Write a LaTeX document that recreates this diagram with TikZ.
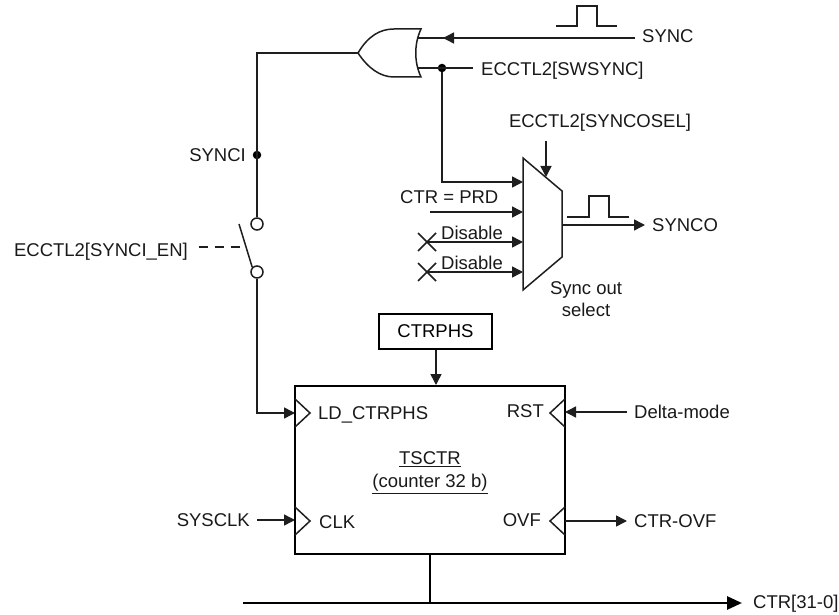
\documentclass[tikz,border=0pt]{standalone}
\usepackage{fontspec}
\setmainfont{Liberation Sans}
\usepackage{xcolor}
\usetikzlibrary{arrows.meta, positioning, shapes.geometric}
\definecolor{wirecol}{RGB}{30,30,30}

\begin{document}
\begin{tikzpicture}[
      x=1pt, y=-1pt,
      wire/.style={draw=wirecol, line width=1.5pt},
      arr/.style={wire, -{Triangle[length=11pt,width=11pt]}},
      bus/.style={draw=black, line width=2.7pt},
      lbl/.style={font=\fontsize{18.5}{22}\selectfont, inner xsep=7pt, inner ysep=0pt,
                  text height=13pt, text depth=0pt, text=black!90},
      regbox/.style={draw=black, line width=2.7pt, minimum width=113pt, minimum height=35pt,
                     font=\fontsize{18.5}{22}\selectfont, inner sep=0pt},
      pad/.style={draw=wirecol, circle, line width=1.5pt, minimum size=12pt, inner sep=0pt, fill=white},
      joint/.style={fill=black, circle, inner sep=0pt, minimum size=8.5pt}
    ]
    \useasboundingbox (0,0) rectangle (839,615);

    % or gate
    \coordinate (ortip) at (358,53);
    \coordinate (ortop) at (421,29);
    \coordinate (orbot) at (421,77);
    \coordinate (orinA) at (417,38);
    \coordinate (orinB) at (417,68);
    \draw[wire, line join=miter] (ortip) .. controls (368,36) and (380,29) .. (394,29) -- (ortop)
      .. controls (414,44) and (414,62) .. (orbot) -- (394,77)
      .. controls (380,77) and (368,68) .. (ortip);

    \node[lbl, anchor=west] (sync) at (635,36) {SYNC};
    \node[lbl, anchor=west] (swsync) at (474,69) {ECCTL2[SWSYNC]};
    \node[joint] (jsw) at (442,68) {};
    \coordinate (syncin) at (635,38);
    \coordinate (syncarr) at (443,38);
    \coordinate (swin) at (473,68);
    \draw[wire] (syncin) -- (orinA);
    \draw[arr] (syncin) -- (syncarr);
    \draw[wire] (swin) -- (orinB);

    % pulse on sync
    \draw[wire] (556,26) -- (577,26) -- (577,6) -- (597,6) -- (597,26) -- (617,26);

    % synci path
    \node[joint] (jsynci) at (257,155) {};
    \node[lbl, anchor=east] (synci) at (253,155) {SYNCI};
    \node[pad] (padtop) at (257,224) {};
    \node[pad] (padbot) at (257,272) {};
    \coordinate (ldpin) at (295,413);
    \draw[wire] (ortip) -| (padtop.north);
    \draw[arr] (padbot.south) |- (ldpin);

    % switch
    \coordinate (armend) at (239,224);
    \coordinate (armmid) at (247,247);
    \coordinate (dashend) at (199,247);
    \draw[wire] (armend) -- (padbot.north west);
    \node[lbl, anchor=east] (swen) at (195,250) {ECCTL2[SYNCI\_EN]};
    \draw[wire, dash pattern=on 9pt off 7pt] (dashend) -- (armmid);

    % mux
    \coordinate (muxtl) at (523,158);
    \coordinate (muxtr) at (562,191);
    \coordinate (muxbr) at (562,257);
    \coordinate (muxbl) at (523,290);
    \draw[wire, line join=miter] (muxtl) -- (muxtr) -- (muxbr) -- (muxbl) -- cycle;
    \coordinate (muxA) at (523,182);
    \coordinate (muxB) at (523,212);
    \coordinate (muxC) at (523,242);
    \coordinate (muxD) at (523,272);
    \coordinate (muxout) at (562,225);
    \coordinate (muxsel) at (546,177);
    \draw[arr] (jsw) |- (muxA);

    \node[lbl, anchor=west] (prd) at (393,197) {CTR = PRD};
    \coordinate (prdin) at (430,212);
    \draw[arr] (prdin) -- (muxB);

    \coordinate (xC) at (427,242);
    \coordinate (xD) at (427,272);
    \node[lbl, anchor=west] (disC) at (434,233) {Disable};
    \node[lbl, anchor=west] (disD) at (434,263) {Disable};
    \draw[arr] (xC) -- (muxC);
    \draw[arr] (xD) -- (muxD);
    \draw[wire] ([shift={(-9,-9)}]xC) -- ([shift={(9,9)}]xC);
    \draw[wire] ([shift={(-9,9)}]xC) -- ([shift={(9,-9)}]xC);
    \draw[wire] ([shift={(-9,-9)}]xD) -- ([shift={(9,9)}]xD);
    \draw[wire] ([shift={(-9,9)}]xD) -- ([shift={(9,-9)}]xD);

    \node[lbl, anchor=south] (syncosel) at (600,128) {ECCTL2[SYNCOSEL]};
    \coordinate (selstart) at (546,141);
    \draw[arr] (selstart) -- (muxsel);

    \node[lbl, anchor=west] (synco) at (645,225) {SYNCO};
    \draw[arr] (muxout) -- (synco.west);
    \draw[wire] (567,217) -- (589,217) -- (589,196) -- (609,196) -- (609,217) -- (629,217);
    \node[lbl, align=center] (muxname) at (586,310) {Sync out\\select};

    % counter
    \node[regbox] (ctrphs) at (435.5,331.5) {CTRPHS};
    \node[draw=black, line width=2.7pt, minimum width=270pt, minimum height=168pt, inner sep=0pt] (tsctr) at (430,470) {};
    \coordinate (phsout) at (436,350);
    \coordinate (phsin) at (436,385);
    \draw[arr] (phsout) -- (phsin);

    % clock pins
    \draw[wire] (295,399) -- (310,413) -- (295,427);
    \draw[wire] (295,507) -- (310,521) -- (295,535);
    \draw[wire] (565,399) -- (550,413) -- (565,427);
    \draw[wire] (565,507) -- (550,521) -- (565,535);

    \node[lbl, anchor=west] (ldtxt) at (311,413) {LD\_CTRPHS};
    \node[lbl, anchor=east] (rsttxt) at (551,411) {RST};
    \node[lbl, anchor=west] (clktxt) at (312,522) {CLK};
    \node[lbl, anchor=east] (ovftxt) at (548,520) {OVF};
    \node[lbl] (ctrname) at (430,458) {\underline{TSCTR}};
    \node[lbl] (ctrsize) at (430,481) {\underline{(counter 32 b)}};

    \node[lbl, anchor=east] (sysclk) at (257,520) {SYSCLK};
    \node[lbl, anchor=west] (delta) at (627,412) {Delta-mode};
    \node[lbl, anchor=west] (ovf) at (627,521) {CTR-OVF};
    \coordinate (rstpin) at (565,412);
    \coordinate (clkpin) at (295,520);
    \coordinate (ovfpin) at (565,521);
    \draw[arr] (delta.west) -- (rstpin);
    \draw[arr] (sysclk.east) -- (clkpin);
    \draw[arr] (ovfpin) -- (ovf.west);

    % bus
    \node[lbl, anchor=west] (ctrout) at (746,602) {CTR[31-0]};
    \coordinate (busL) at (243,603);
    \coordinate (busT) at (430,603);
    \coordinate (busR) at (742,603);
    \draw[bus] (busL) -- (busT);
    \draw[bus, -{Triangle[length=15pt,width=13pt]}] (busT) -- (busR);
    \draw[bus] (tsctr.south) -- (busT);
  \end{tikzpicture}
\end{document}
